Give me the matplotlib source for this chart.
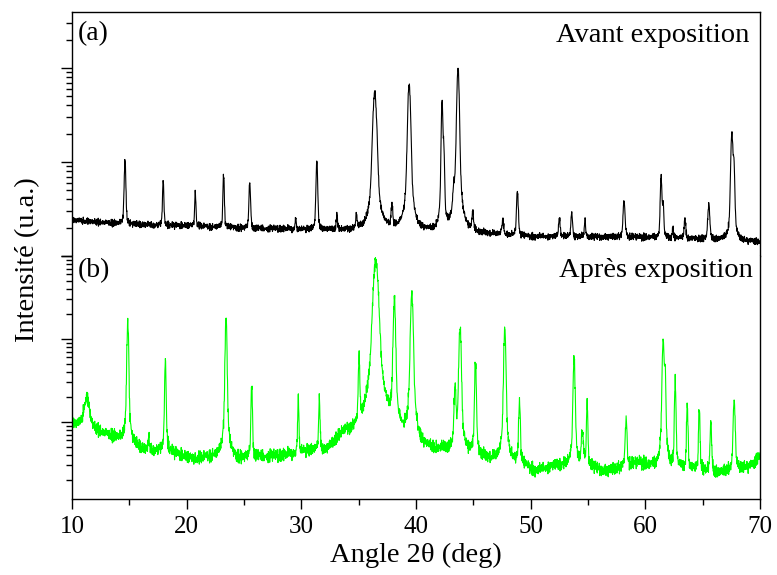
import numpy as np
import matplotlib
matplotlib.use("Agg")
import matplotlib.pyplot as plt
from matplotlib.ticker import LogLocator, MultipleLocator, NullFormatter

plt.rcParams['font.family'] = ['Liberation Serif', 'DejaVu Serif']

# --- background levels (angle, intensity) ---
bg_top_x = [10, 12, 14, 16, 18, 20, 22, 24, 26, 28, 30, 32, 34, 36, 38, 40, 42, 44, 46, 48, 50, 55, 60, 65, 68, 70]
bg_top_y = [24, 23, 22, 21.5, 21, 21, 20.5, 20, 19.5, 19.5, 19, 19, 18.5, 18, 18, 17.5, 17.5, 17.3, 17, 16.5, 16, 16, 15.8, 15, 14.5, 14]

bg_bot_x = [10, 11.3, 12.4, 14.2, 16.2, 18.5, 20.6, 22.3, 24.6, 27, 28.7, 31, 32.2, 33.7, 34.9, 36.5, 38.6, 40.3, 42.4, 44.7, 46.7, 49.3, 50.5, 52, 54.9, 56.6, 59.5, 60.7, 64, 66.5, 69.4, 70]
bg_bot_y = [9.5, 9.0, 7.6, 6.1, 4.6, 4.3, 3.5, 3.8, 3.5, 3.7, 3.8, 4.2, 4.0, 6.5, 5.5, 5.0, 4.3, 3.8, 4.2, 3.8, 3.3, 2.9, 2.45, 2.9, 2.9, 2.5, 3.2, 2.8, 2.6, 2.4, 3.0, 4.0]

# --- peaks: position (deg), top intensity, half width (deg) ---
pk_top_pos = [14.62, 17.95, 20.75, 23.22, 25.5, 29.5, 31.35, 33.1, 34.8, 36.4, 37.9, 39.4, 42.27, 42.42,
              43.3, 43.66, 44.95, 47.56, 48.84, 52.5, 53.58, 54.74, 58.14, 61.37, 61.55, 62.4, 63.45,
              65.53, 67.54, 67.72]
pk_top_h = [105, 63, 47, 74, 61, 26, 103, 28, 27, 546, 32, 671, 436, 120,
            37, 977, 27, 23, 49, 25, 30, 24, 38, 71, 35, 20, 25,
            35, 204, 90]
pk_top_w = [0.07, 0.06, 0.06, 0.06, 0.07, 0.05, 0.07, 0.06, 0.06, 0.16, 0.08, 0.12, 0.07, 0.06,
            0.1, 0.1, 0.08, 0.1, 0.08, 0.08, 0.07, 0.06, 0.09, 0.07, 0.06, 0.06, 0.08,
            0.09, 0.09, 0.07]

pk_bot_pos = [11.28, 14.86, 16.7, 18.14, 23.43, 25.67, 29.73, 31.57, 35.03, 36.49, 38.11, 39.63,
              43.4, 43.84, 45.18, 47.74, 49.02, 53.78, 54.5, 54.92, 58.32, 61.55, 61.72, 62.6,
              63.65, 64.7, 65.71, 67.74]
pk_bot_h = [19.5, 165, 7, 54, 186, 28, 20, 18, 56, 895, 295, 361,
            25, 144, 53, 141, 18, 60, 7, 17, 10.2, 95, 40, 31,
            16.5, 15, 9.7, 18.4]
pk_bot_w = [0.25, 0.07, 0.04, 0.06, 0.07, 0.06, 0.05, 0.06, 0.06, 0.2, 0.09, 0.1,
            0.08, 0.09, 0.07, 0.08, 0.07, 0.08, 0.1, 0.06, 0.08, 0.08, 0.06, 0.06,
            0.06, 0.06, 0.07, 0.08]

# hand-typed jitter pattern for the counting noise
jit_a = [3, -5, 7, -2, 0, -8, 4, 6, -3, 1, -7, 9, -4, 2, -6, 5, -1, 8, -9, 0, 3, -2, 7, -5, 4, -8, 1, 6,
         -3, -7, 2, 9, -4, 0, 5, -6, 8, -1, -9, 3, 7, -2, 4, -5, 0, 6, -8, 1, -3, 9, -7, 2, 5, -4, -1, 8,
         -6, 3, 0, -9, 7, -2, 4, 1, -5, 6, -8, -3, 9, 2, -7, 5, 0, -4, 8, -1, 3, -6, 7, -9, 2, 4, -2, -5,
         6, 1, -8, 0, 9, -3, 5, -7, 3, -1, 8, -4, 2]
jit_b = [-4, 6, 1, -7, 3, -2, 8, -5, 0, 4, -9, 2, 7, -3, 5, -1, -6, 9, -8, 3, 0, 6, -4, 2, -7, 8, 1, -5,
         4, -2, 7, -9, 3, 0, -6, 5, -1, 9, -3, 2, -8, 6, 4, -7, 1, -4, 8, -2, 5, -6, 3, 0, -9, 7, -1, 2,
         -5, 6, -3, 4, -8]

angle = np.arange(10, 70.0001, 0.02)


def pattern(bx, by, pos, h, w, noise_amp, eta=0.35):
    base = 10 ** np.interp(angle, bx, np.log10(by))
    y = base.copy()
    for c, top, hw in zip(pos, h, w):
        amp = top - np.interp(c, bx, by)
        d = (angle - c) / hw
        y += amp * (eta / (1 + d ** 2) + (1 - eta) * np.exp(-np.log(2) * d ** 2))
    idx = np.arange(len(angle))
    j = (np.take(jit_a, idx % len(jit_a)) + np.take(jit_b, (idx * 3) % len(jit_b))) / 18.0
    return y * 10 ** (noise_amp * j)


y_top = pattern(bg_top_x, bg_top_y, pk_top_pos, pk_top_h, pk_top_w, 0.045)
y_bot = pattern(bg_bot_x, bg_bot_y, pk_bot_pos, pk_bot_h, pk_bot_w, 0.095)

fig = plt.figure(figsize=(7.77, 5.75), dpi=100)
ax1 = fig.add_axes([0.0927, 0.5548, 0.8855, 0.4243])
ax2 = fig.add_axes([0.0927, 0.1322, 0.8855, 0.4226], sharex=ax1)

ax1.plot(angle, y_top, color='black', lw=0.8)
ax2.plot(angle, y_bot, color='#00ff00', lw=0.8)

for ax in (ax1, ax2):
    ax.set_yscale('log')
    ax.yaxis.set_major_locator(LogLocator(base=10, numticks=10))
    ax.yaxis.set_minor_locator(LogLocator(base=10, subs=np.arange(2, 10), numticks=10))
    ax.yaxis.set_major_formatter(NullFormatter())
    ax.yaxis.set_minor_formatter(NullFormatter())
    ax.tick_params(axis='y', which='major', direction='out', length=8, width=1)
    ax.tick_params(axis='y', which='minor', direction='out', length=4.5, width=1)
    for s in ax.spines.values():
        s.set_linewidth(1.0)

ax1.set_ylim(10, 10 ** 3.596)
ax2.set_ylim(10 ** 0.072, 1000)
ax1.set_xlim(10, 70)

ax1.spines['bottom'].set_visible(False)
ax2.spines['top'].set_visible(False)
ax1.tick_params(axis='x', which='both', bottom=False, labelbottom=False)

ax2.xaxis.set_major_locator(MultipleLocator(10))
ax2.xaxis.set_minor_locator(MultipleLocator(5))
ax2.tick_params(axis='x', which='major', direction='out', length=7, width=1, labelsize=18, pad=5)
ax2.tick_params(axis='x', which='minor', direction='out', length=4, width=1)

ax1.text(0.008, 0.91, '(a)', transform=ax1.transAxes, fontsize=20, ha='left', va='center')
ax1.text(0.985, 0.905, 'Avant exposition', transform=ax1.transAxes, fontsize=20.5, ha='right', va='center')
ax2.text(0.008, 0.94, '(b)', transform=ax2.transAxes, fontsize=20, ha='left', va='center')
ax2.text(0.99, 0.94, 'Après exposition', transform=ax2.transAxes, fontsize=20.5, ha='right', va='center')

ax2.set_xlabel('Angle 2θ (deg)', fontsize=20.5, labelpad=4)
fig.text(0.036, 0.548, 'Intensité (u.a.)', rotation=90, fontsize=20.5, ha='center', va='center')

fig.savefig('out.png', dpi=100)
